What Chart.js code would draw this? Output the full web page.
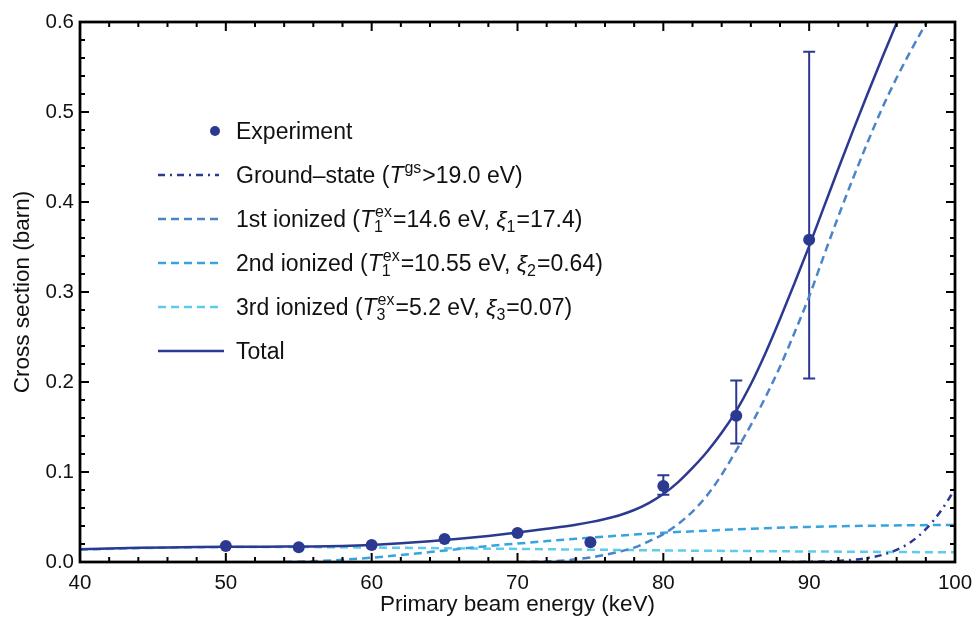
<!DOCTYPE html>
<html>
<head>
<meta charset="utf-8">
<title>Cross section vs primary beam energy</title>
<script src="https://cdn.jsdelivr.net/npm/chart.js@4.4.1/dist/chart.umd.min.js"></script>
<style>
  html, body { margin: 0; padding: 0; background: #fff; }
  #wrap { width: 973px; height: 627px; position: relative; }
</style>
</head>
<body>
<div id="wrap"><canvas id="xsChart"></canvas></div>
<script>
// --- Data (energy in keV, cross section in barn) ---
const expEnergy = [50, 55, 60, 65, 70, 75, 80, 85, 90]
const expCross = [0.0177, 0.0165, 0.0188, 0.0255, 0.0322, 0.0220, 0.0845, 0.1625, 0.358]
const expLow = [0.0177, 0.0165, 0.0188, 0.0255, 0.0322, 0.0220, 0.0747, 0.1316, 0.204]
const expHigh = [0.0177, 0.0165, 0.0188, 0.0255, 0.0322, 0.0220, 0.0965, 0.2018, 0.567]

const totalEnergy = [40, 42, 44, 46, 48, 50, 52, 54, 56, 58, 60, 62, 64, 66, 68, 70, 72, 74, 75, 76, 77, 78, 79, 80, 81, 82, 83, 84, 85, 86, 87, 88, 89, 90, 91, 92, 93, 94, 95, 96, 97]
const totalCross = [0.0142, 0.0150, 0.0157, 0.0162, 0.0166, 0.0169, 0.0170, 0.0171, 0.0173, 0.0179, 0.0190, 0.0207, 0.0230, 0.0258, 0.0290, 0.0328, 0.0370, 0.0415, 0.0443, 0.0478, 0.0520, 0.0578, 0.0655, 0.0755, 0.0885, 0.1045, 0.1225, 0.1435, 0.1680, 0.1975, 0.2320, 0.2700, 0.3100, 0.3510, 0.3940, 0.4370, 0.4790, 0.5200, 0.5600, 0.5990, 0.6370]

const groundEnergy = [88, 90, 91, 92, 93, 94, 95, 96, 97, 98, 99, 100]
const groundCross = [0, 0.0002, 0.0006, 0.0012, 0.0024, 0.0045, 0.0078, 0.0135, 0.0225, 0.0365, 0.056, 0.081]

const firstEnergy = [70, 72, 73, 74, 75, 76, 77, 78, 79, 80, 81, 82, 83, 84, 85, 86, 87, 88, 89, 90, 91, 92, 93, 94, 95, 96, 97, 98, 99, 100]
const firstCross = [0, 0.0005, 0.0015, 0.003, 0.005, 0.008, 0.0115, 0.016, 0.023, 0.031, 0.042, 0.056, 0.074, 0.097, 0.124, 0.152, 0.183, 0.217, 0.255, 0.295, 0.340, 0.384, 0.426, 0.466, 0.504, 0.538, 0.569, 0.598, 0.626, 0.652]

const secondEnergy = [54, 56, 58, 60, 62, 64, 66, 68, 70, 72, 74, 76, 78, 80, 83, 86, 90, 95, 100]
const secondCross = [0, 0.0008, 0.0025, 0.0048, 0.0078, 0.011, 0.0145, 0.0178, 0.0205, 0.0232, 0.0258, 0.0282, 0.0305, 0.0325, 0.0348, 0.0370, 0.0390, 0.0405, 0.0412]

const thirdEnergy = [40, 45, 50, 55, 60, 65, 70, 75, 80, 85, 90, 95, 100]
const thirdCross = [0.0136, 0.0156, 0.0165, 0.0166, 0.0161, 0.0153, 0.0145, 0.0137, 0.0129, 0.0122, 0.0117, 0.0112, 0.0107]

// --- Axis ticks ---
const xTicks = [40, 50, 60, 70, 80, 90, 100]
const yTicks = [0, 0.1, 0.2, 0.3, 0.4, 0.5, 0.6]
const xMinorStep = 2
const yMinorStep = 0.02

// --- Styles ---
const FONT = '"Liberation Sans", Arial, Helvetica, sans-serif'
const NAVY = '#2b3990'
const BLUE1 = '#4a84c9'
const BLUE2 = '#37a4df'
const BLUE3 = '#5dcbea'

const toXY = (xs, ys) => xs.map((x, i) => ({ x: x, y: ys[i] }))

function curve(label, xs, ys, color, dash) {
  return {
    label: label,
    data: toXY(xs, ys),
    showLine: true,
    borderColor: color,
    borderWidth: 2.5,
    borderDash: dash,
    pointRadius: 0,
    cubicInterpolationMode: 'monotone',
    fill: false,
  }
}

// --- Error bars under the experiment points ---
const errorBars = {
  id: 'errorBars',
  beforeDatasetsDraw(chart) {
    const { ctx, scales: { x, y } } = chart
    ctx.save()
    ctx.strokeStyle = NAVY
    ctx.lineWidth = 2
    expEnergy.forEach((e, i) => {
      if (expHigh[i] - expLow[i] <= 0) return
      const px = x.getPixelForValue(e)
      const lo = y.getPixelForValue(expLow[i])
      const hi = y.getPixelForValue(expHigh[i])
      ctx.beginPath()
      ctx.moveTo(px, lo); ctx.lineTo(px, hi)
      ctx.moveTo(px - 6, lo); ctx.lineTo(px + 6, lo)
      ctx.moveTo(px - 6, hi); ctx.lineTo(px + 6, hi)
      ctx.stroke()
    })
    ctx.restore()
  },
}

// --- Black frame with inward ticks on all four sides ---
const frame = {
  id: 'frame',
  afterDatasetsDraw(chart) {
    const { ctx, chartArea: a, scales: { x, y } } = chart
    ctx.save()
    ctx.strokeStyle = '#000'
    ctx.lineWidth = 2
    ctx.beginPath()
    for (let v = x.min; v <= x.max + 1e-9; v += xMinorStep) {
      const px = x.getPixelForValue(v)
      const len = xTicks.some((t) => Math.abs(t - v) < 1e-6) ? 9 : 5
      ctx.moveTo(px, a.bottom); ctx.lineTo(px, a.bottom - len)
      ctx.moveTo(px, a.top); ctx.lineTo(px, a.top + len)
    }
    for (let v = y.min; v <= y.max + 1e-9; v += yMinorStep) {
      const py = y.getPixelForValue(v)
      const len = yTicks.some((t) => Math.abs(t - v) < 1e-6) ? 9 : 5
      ctx.moveTo(a.left, py); ctx.lineTo(a.left + len, py)
      ctx.moveTo(a.right, py); ctx.lineTo(a.right - len, py)
    }
    ctx.stroke()
    ctx.lineWidth = 2.75
    ctx.strokeRect(a.left, a.top, a.right - a.left, a.bottom - a.top)
    ctx.restore()
  },
}

// --- Legend with super/subscripts, drawn inside the plot ---
const legendRows = [
  { type: 'point', parts: [['Experiment', 'n']] },
  { type: 'line', color: NAVY, dash: [7, 5, 2, 5], parts: [['Ground\u2013state (', 'n'], ['T', 'i'], ['gs', 'sup'], ['>19.0 eV)', 'n']] },
  { type: 'line', color: BLUE1, dash: [8, 5], parts: [['1st ionized (', 'n'], ['T', 'i'], ['ex', 'supsub', '1'], ['=14.6 eV, ', 'n'], ['\u03be', 'i'], ['1', 'sub'], ['=17.4)', 'n']] },
  { type: 'line', color: BLUE2, dash: [8, 5], parts: [['2nd ionized (', 'n'], ['T', 'i'], ['ex', 'supsub', '1'], ['=10.55 eV, ', 'n'], ['\u03be', 'i'], ['2', 'sub'], ['=0.64)', 'n']] },
  { type: 'line', color: BLUE3, dash: [8, 5], parts: [['3rd ionized (', 'n'], ['T', 'i'], ['ex', 'supsub', '3'], ['=5.2 eV, ', 'n'], ['\u03be', 'i'], ['3', 'sub'], ['=0.07)', 'n']] },
  { type: 'line', color: NAVY, dash: [], parts: [['Total', 'n']] },
]

function drawRich(ctx, x, y, parts, size) {
  const small = Math.round(size * 0.7)
  parts.forEach(([txt, kind, sub]) => {
    if (kind === 'n' || kind === 'i') {
      ctx.font = (kind === 'i' ? 'italic ' : '') + size + 'px ' + FONT
      ctx.fillText(txt, x, y)
      x += ctx.measureText(txt).width
      return
    }
    ctx.font = small + 'px ' + FONT
    let w = 0
    if (kind === 'sup' || kind === 'supsub') {
      ctx.fillText(txt, x + 1, y - size * 0.42)
      w = ctx.measureText(txt).width + 1
    }
    const subTxt = kind === 'sub' ? txt : sub
    if (subTxt) {
      ctx.fillText(subTxt, x, y + size * 0.22)
      w = Math.max(w, ctx.measureText(subTxt).width)
    }
    x += w + 1
  })
}

const insideLegend = {
  id: 'insideLegend',
  afterDraw(chart) {
    const { ctx } = chart
    ctx.save()
    ctx.fillStyle = '#111'
    ctx.textBaseline = 'alphabetic'
    legendRows.forEach((row, i) => {
      const cy = 131 + i * 44
      if (row.type === 'point') {
        ctx.beginPath()
        ctx.fillStyle = NAVY
        ctx.arc(215, cy, 5, 0, Math.PI * 2)
        ctx.fill()
      } else {
        ctx.beginPath()
        ctx.strokeStyle = row.color
        ctx.lineWidth = 2.5
        ctx.setLineDash(row.dash)
        ctx.moveTo(158, cy)
        ctx.lineTo(row.dash.length ? 219 : 224, cy)
        ctx.stroke()
        ctx.setLineDash([])
      }
      ctx.fillStyle = '#111'
      drawRich(ctx, 236, cy + 8, row.parts, 23)
    })
    ctx.restore()
  },
}

// --- Build the chart ---
const canvas = document.getElementById('xsChart')

new Chart(canvas, {
  type: 'scatter',
  data: {
    datasets: [
      {
        label: 'Experiment',
        data: toXY(expEnergy, expCross),
        pointRadius: 6,
        pointBackgroundColor: NAVY,
        pointBorderWidth: 0,
        showLine: false,
      },
      curve('Total', totalEnergy, totalCross, NAVY, []),
      curve('Ground-state', groundEnergy, groundCross, NAVY, [7, 5, 2, 5]),
      curve('1st ionized', firstEnergy, firstCross, BLUE1, [8, 5]),
      curve('2nd ionized', secondEnergy, secondCross, BLUE2, [8, 5]),
      curve('3rd ionized', thirdEnergy, thirdCross, BLUE3, [8, 5]),
    ],
  },
  options: {
    responsive: true,
    maintainAspectRatio: false,
    animation: false,
    layout: { padding: { top: 22, right: 18, left: 0, bottom: 0 } },
    plugins: {
      legend: { display: false },
      tooltip: { enabled: false },
    },
    scales: {
      x: {
        type: 'linear',
        min: 40,
        max: 100,
        grid: { display: false, drawTicks: false },
        border: { display: false },
        afterBuildTicks: (s) => { s.ticks = xTicks.map((v) => ({ value: v })) },
        afterFit: (s) => {
          s.height = 65
          s.paddingLeft = 0
          s.paddingRight = 0
        },
        ticks: {
          autoSkip: false,
          maxRotation: 0,
          padding: 9,
          color: '#111',
          font: { family: FONT, size: 20.5 },
          callback: (v) => String(v),
        },
        title: {
          display: true,
          text: 'Primary beam energy (keV)',
          color: '#111',
          font: { family: FONT, size: 22.5 },
          padding: { top: 0, bottom: 9 },
        },
      },
      y: {
        type: 'linear',
        min: 0,
        max: 0.6,
        grid: { display: false, drawTicks: false },
        border: { display: false },
        afterBuildTicks: (s) => { s.ticks = yTicks.map((v) => ({ value: v })) },
        afterFit: (s) => {
          s.width = 80
          s.paddingTop = 0
          s.paddingBottom = 0
        },
        ticks: {
          autoSkip: false,
          padding: 6,
          color: '#111',
          font: { family: FONT, size: 20.5 },
          callback: (v) => Number(v).toFixed(1),
        },
        title: {
          display: true,
          text: 'Cross section (barn)',
          color: '#111',
          font: { family: FONT, size: 22.5 },
          padding: { top: 9, bottom: 0 },
        },
      },
    },
  },
  plugins: [errorBars, frame, insideLegend],
})
</script>
</body>
</html>
